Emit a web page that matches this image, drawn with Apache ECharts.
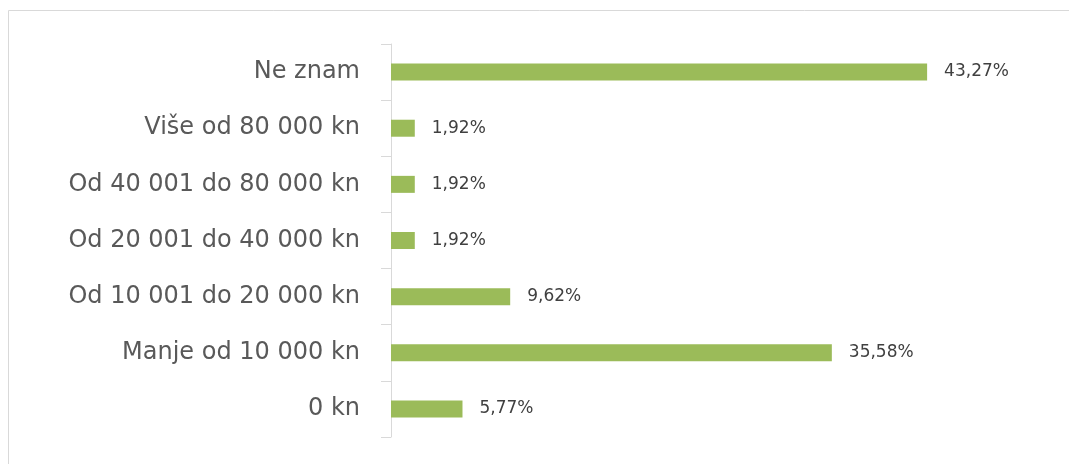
<!DOCTYPE html>
<html><head><meta charset="utf-8">
<script src="https://cdn.jsdelivr.net/npm/echarts@6/dist/echarts.min.js"></script>
<style>html,body{margin:0;padding:0;background:#fff}#c{width:1069px;height:464px}</style>
</head><body><div id="c"></div>
<script>
const categories = ['0 kn','Manje od 10 000 kn','Od 10 001 do 20 000 kn','Od 20 001 do 40 000 kn','Od 40 001 do 80 000 kn','Više od 80 000 kn','Ne znam'];
const values = [5.77, 35.58, 9.62, 1.92, 1.92, 1.92, 43.27];

const chart = echarts.init(document.getElementById('c'));
chart.setOption({
  animation: false,
  graphic: [{type:'rect', shape:{x:8.5,y:10.5,width:1080,height:470}, style:{fill:'none',stroke:'#d9d9d9',lineWidth:1}, z:-1}],
  grid: {left: 391, top: 44, bottom: 27, right: 58.5, containLabel: false},
  xAxis: {type:'value', min:0, max:50, show:false},
  yAxis: {type:'category', data: categories,
    axisLine:{show:true, lineStyle:{color:'#d9d9d9', width:1}},
    axisTick:{show:true, length:10, lineStyle:{color:'#d9d9d9'}},
    axisLabel:{fontFamily:'DejaVu Sans', fontSize:24, color:'#595959', margin:31},
    splitLine:{show:false}},
  series: [{type:'bar', data: values, barWidth:17,
    itemStyle:{color:'#9bbb59'},
    label:{show:true, position:'right', distance:17, fontFamily:'DejaVu Sans', fontSize:17, color:'#404040',
      formatter: p => p.value.toFixed(2).replace('.', ',') + '%'}}]
});
</script></body></html>
